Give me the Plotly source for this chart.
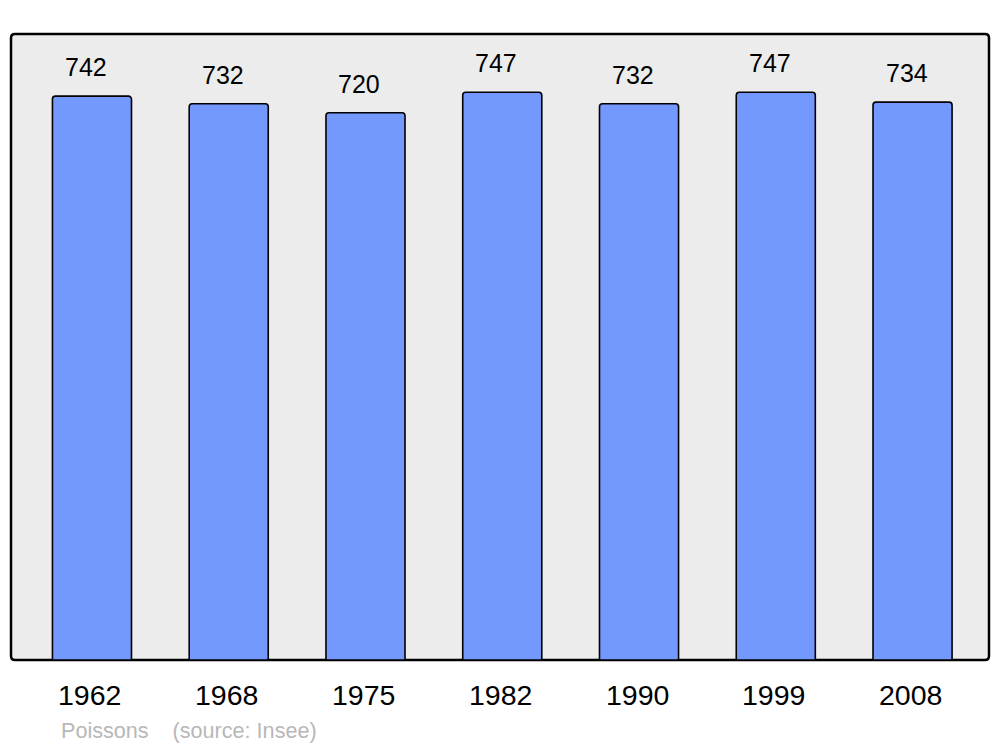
import plotly.graph_objects as go

years = ["1962", "1968", "1975", "1982", "1990", "1999", "2008"]
population = [742, 732, 720, 747, 732, 747, 734]
commune = "Poissons"
source = "(source: Insee)"

xpos = list(range(len(years)))

fig = go.Figure()
fig.add_trace(go.Bar(
    x=xpos, y=population, width=0.578,
    marker=dict(color="#7399ff", line=dict(color="#000000", width=1.6), cornerradius=3),
    hoverinfo="skip",
))

annotations = []
for xi, v in zip(xpos, population):
    annotations.append(dict(x=xi, y=v, xref="x", yref="y", text=str(v), showarrow=False,
                            yanchor="middle", yshift=29, xshift=-6,
                            font=dict(family="Liberation Sans, Arial, sans-serif", size=25, color="#000000")))
for xi, yr in zip(xpos, years):
    annotations.append(dict(x=xi, y=0, xref="x", yref="paper", text=yr, showarrow=False,
                            yanchor="middle", yshift=-35, xshift=-2,
                            font=dict(family="Liberation Sans, Arial, sans-serif", size=28.5, color="#000000")))
annotations.append(dict(x=(59 - 11) / 978, y=0, xref="paper", yref="paper",
                        text=commune + "\u00a0\u00a0\u00a0\u00a0" + source, showarrow=False,
                        xanchor="left", yanchor="middle", yshift=-70,
                        font=dict(family="Liberation Sans, Arial, sans-serif", size=21.6, color="#b8b8b8")))

# rounded background frame in paper coords
rx = 4 / 978
ry = 4 / 626
path = (f"M {rx},0 L {1-rx},0 Q 1,0 1,{ry} L 1,{1-ry} Q 1,1 {1-rx},1 "
        f"L {rx},1 Q 0,1 0,{1-ry} L 0,{ry} Q 0,0 {rx},0 Z")

fig.update_layout(
    width=1000, height=747,
    margin=dict(l=11, r=11, t=34, b=87),
    paper_bgcolor="#ffffff",
    plot_bgcolor="rgba(0,0,0,0)",
    showlegend=False,
    xaxis=dict(range=[-0.592, 6.559], showgrid=False, zeroline=False, showticklabels=False, ticks="", fixedrange=True),
    yaxis=dict(range=[0, 823.7], showgrid=False, zeroline=False, showticklabels=False, ticks="", fixedrange=True),
    shapes=[dict(type="path", xref="paper", yref="paper", path=path,
                 fillcolor="#ececec", line=dict(color="#000000", width=2.5), layer="below")],
    annotations=annotations,
)

fig.write_html("out.html", config={"displayModeBar": False},
               post_script="document.body.style.margin='0';document.body.style.overflow='hidden';")
